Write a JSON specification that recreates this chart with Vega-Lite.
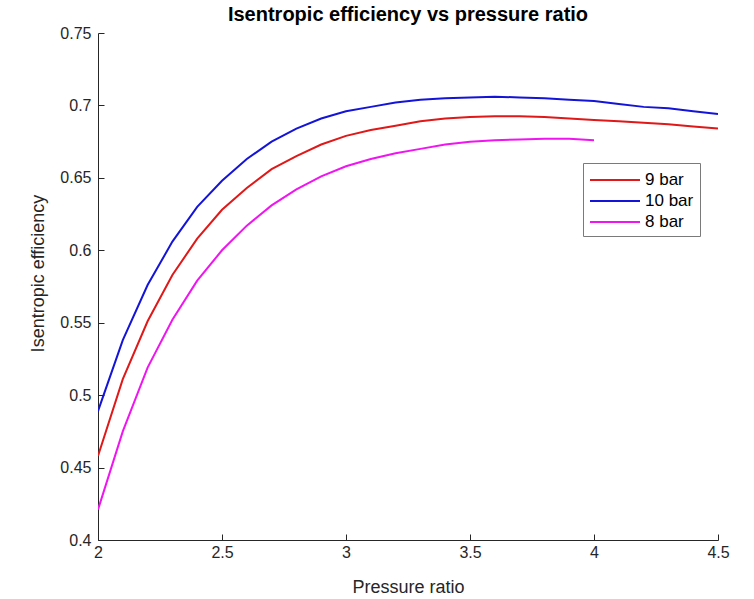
{
  "$schema": "https://vega.github.io/schema/vega-lite/v6.json",
  "autosize": {"type": "none"},
  "width": 620,
  "height": 507,
  "padding": {"left": 98, "top": 33, "right": 36, "bottom": 59},
  "background": "white",
  "title": {"text": "Isentropic efficiency vs pressure ratio", "font": "Liberation Sans", "fontSize": 20, "fontWeight": "bold", "color": "#000000", "offset": 0, "anchor": "middle"},
  "config": {"view": {"stroke": null}, "font": "Liberation Sans"},
  "datasets": {
    "d": [
      {"pr": 2.0, "eff": 0.458, "s": "9 bar"}, {"pr": 2.1, "eff": 0.511, "s": "9 bar"}, {"pr": 2.2, "eff": 0.551, "s": "9 bar"}, {"pr": 2.3, "eff": 0.583, "s": "9 bar"}, {"pr": 2.4, "eff": 0.608, "s": "9 bar"}, {"pr": 2.5, "eff": 0.628, "s": "9 bar"}, {"pr": 2.6, "eff": 0.643, "s": "9 bar"}, {"pr": 2.7, "eff": 0.656, "s": "9 bar"}, {"pr": 2.8, "eff": 0.665, "s": "9 bar"}, {"pr": 2.9, "eff": 0.673, "s": "9 bar"}, {"pr": 3.0, "eff": 0.679, "s": "9 bar"}, {"pr": 3.1, "eff": 0.683, "s": "9 bar"}, {"pr": 3.2, "eff": 0.686, "s": "9 bar"}, {"pr": 3.3, "eff": 0.689, "s": "9 bar"}, {"pr": 3.4, "eff": 0.691, "s": "9 bar"}, {"pr": 3.5, "eff": 0.692, "s": "9 bar"}, {"pr": 3.6, "eff": 0.6925, "s": "9 bar"}, {"pr": 3.7, "eff": 0.6925, "s": "9 bar"}, {"pr": 3.8, "eff": 0.692, "s": "9 bar"}, {"pr": 3.9, "eff": 0.691, "s": "9 bar"}, {"pr": 4.0, "eff": 0.690, "s": "9 bar"}, {"pr": 4.1, "eff": 0.689, "s": "9 bar"}, {"pr": 4.2, "eff": 0.688, "s": "9 bar"}, {"pr": 4.3, "eff": 0.687, "s": "9 bar"}, {"pr": 4.4, "eff": 0.6855, "s": "9 bar"}, {"pr": 4.5, "eff": 0.684, "s": "9 bar"},
      {"pr": 2.0, "eff": 0.489, "s": "10 bar"}, {"pr": 2.1, "eff": 0.538, "s": "10 bar"}, {"pr": 2.2, "eff": 0.576, "s": "10 bar"}, {"pr": 2.3, "eff": 0.606, "s": "10 bar"}, {"pr": 2.4, "eff": 0.630, "s": "10 bar"}, {"pr": 2.5, "eff": 0.648, "s": "10 bar"}, {"pr": 2.6, "eff": 0.663, "s": "10 bar"}, {"pr": 2.7, "eff": 0.675, "s": "10 bar"}, {"pr": 2.8, "eff": 0.684, "s": "10 bar"}, {"pr": 2.9, "eff": 0.691, "s": "10 bar"}, {"pr": 3.0, "eff": 0.696, "s": "10 bar"}, {"pr": 3.1, "eff": 0.699, "s": "10 bar"}, {"pr": 3.2, "eff": 0.702, "s": "10 bar"}, {"pr": 3.3, "eff": 0.704, "s": "10 bar"}, {"pr": 3.4, "eff": 0.705, "s": "10 bar"}, {"pr": 3.5, "eff": 0.7055, "s": "10 bar"}, {"pr": 3.6, "eff": 0.706, "s": "10 bar"}, {"pr": 3.7, "eff": 0.7055, "s": "10 bar"}, {"pr": 3.8, "eff": 0.705, "s": "10 bar"}, {"pr": 3.9, "eff": 0.704, "s": "10 bar"}, {"pr": 4.0, "eff": 0.703, "s": "10 bar"}, {"pr": 4.1, "eff": 0.701, "s": "10 bar"}, {"pr": 4.2, "eff": 0.699, "s": "10 bar"}, {"pr": 4.3, "eff": 0.698, "s": "10 bar"}, {"pr": 4.4, "eff": 0.696, "s": "10 bar"}, {"pr": 4.5, "eff": 0.694, "s": "10 bar"},
      {"pr": 2.0, "eff": 0.421, "s": "8 bar"}, {"pr": 2.1, "eff": 0.475, "s": "8 bar"}, {"pr": 2.2, "eff": 0.519, "s": "8 bar"}, {"pr": 2.3, "eff": 0.552, "s": "8 bar"}, {"pr": 2.4, "eff": 0.579, "s": "8 bar"}, {"pr": 2.5, "eff": 0.600, "s": "8 bar"}, {"pr": 2.6, "eff": 0.617, "s": "8 bar"}, {"pr": 2.7, "eff": 0.631, "s": "8 bar"}, {"pr": 2.8, "eff": 0.642, "s": "8 bar"}, {"pr": 2.9, "eff": 0.651, "s": "8 bar"}, {"pr": 3.0, "eff": 0.658, "s": "8 bar"}, {"pr": 3.1, "eff": 0.663, "s": "8 bar"}, {"pr": 3.2, "eff": 0.667, "s": "8 bar"}, {"pr": 3.3, "eff": 0.670, "s": "8 bar"}, {"pr": 3.4, "eff": 0.673, "s": "8 bar"}, {"pr": 3.5, "eff": 0.675, "s": "8 bar"}, {"pr": 3.6, "eff": 0.676, "s": "8 bar"}, {"pr": 3.7, "eff": 0.6765, "s": "8 bar"}, {"pr": 3.8, "eff": 0.677, "s": "8 bar"}, {"pr": 3.9, "eff": 0.677, "s": "8 bar"}, {"pr": 4.0, "eff": 0.676, "s": "8 bar"}
    ]
  },
  "data": {"name": "d"},
  "mark": {"type": "line", "strokeWidth": 2, "clip": true},
  "encoding": {
    "x": {
      "field": "pr", "type": "quantitative",
      "scale": {"domain": [2, 4.5], "nice": false, "zero": false},
      "axis": {"title": "Pressure ratio", "values": [2, 2.5, 3, 3.5, 4, 4.5], "format": "~g", "grid": false, "tickSize": -6, "labelPadding": 10, "domainColor": "#262626", "tickColor": "#262626", "labelColor": "#262626", "labelFontSize": 16, "labelFont": "Liberation Sans", "titleFont": "Liberation Sans", "titleFontSize": 18, "titleFontWeight": "normal", "titleColor": "#262626", "titlePadding": 18, "labelFlush": false}
    },
    "y": {
      "field": "eff", "type": "quantitative",
      "scale": {"domain": [0.4, 0.75], "nice": false, "zero": false},
      "axis": {"title": "Isentropic efficiency", "values": [0.4, 0.45, 0.5, 0.55, 0.6, 0.65, 0.7, 0.75], "format": "~g", "grid": false, "tickSize": -6, "labelPadding": 13, "domainColor": "#262626", "tickColor": "#262626", "labelColor": "#262626", "labelFontSize": 16, "labelFont": "Liberation Sans", "titleFont": "Liberation Sans", "titleFontSize": 18, "titleFontWeight": "normal", "titleColor": "#262626", "titlePadding": 12, "titleY": 240, "labelFlush": false}
    },
    "color": {
      "field": "s", "type": "nominal",
      "scale": {"domain": ["9 bar", "10 bar", "8 bar"], "range": ["#e01818", "#1414d8", "#f014f0"]},
      "sort": ["9 bar", "10 bar", "8 bar"],
      "legend": {"title": null, "orient": "none", "legendX": 485, "legendY": 130, "symbolType": "M-1,0H4", "symbolSize": 400, "symbolStrokeWidth": 2, "labelFontSize": 17, "labelFont": "Liberation Sans", "labelColor": "#000000", "strokeColor": "#7a7a7a", "fillColor": "white", "padding": 6, "rowPadding": 2, "labelOffset": 34}
    }
  }
}
